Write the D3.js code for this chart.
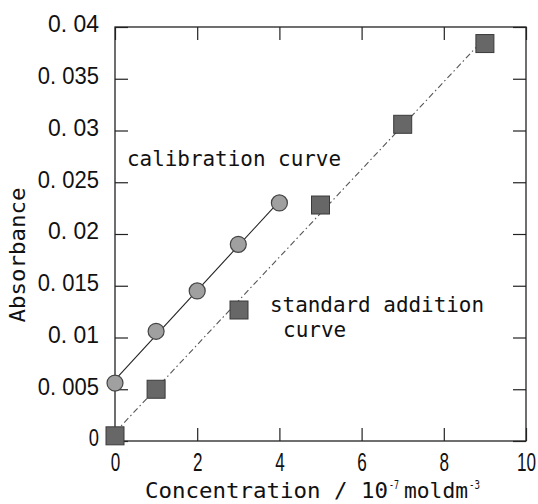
<!DOCTYPE html>
<html>
<head>
<meta charset="utf-8">
<script src="https://cdn.jsdelivr.net/npm/d3@7"></script>
<style>
  body { margin: 0; background: #fff; }
  svg text { fill: #111; }
  .mono { font-family: "DejaVu Sans Mono", "Liberation Mono", monospace; }
  .tick text { font-family: "Liberation Sans", Arial, sans-serif; }
</style>
</head>
<body>
<div id="graph"></div>
<script>
// calibration curve (circles)
var calX = [0, 1, 2, 3, 4];
var calY = [0.0056, 0.0106, 0.0145, 0.0190, 0.0230];
// standard addition curve (squares)
var addX = [0, 1, 5, 7, 9];
var addY = [0.0005, 0.0050, 0.0228, 0.0306, 0.0384];

var xTicks = [0, 2, 4, 6, 8, 10];
var yTicks = [0, 0.005, 0.01, 0.015, 0.02, 0.025, 0.03, 0.035, 0.04];
var yTickLabels = ["0", "0. 005", "0. 01", "0. 015", "0. 02", "0. 025", "0. 03", "0. 035", "0. 04"];

var width = 538, height = 504;
var margin = { left: 115, top: 27, right: 12, bottom: 63 };
var w = width - margin.left - margin.right,
  h = height - margin.top - margin.bottom;

var svg = d3.select("#graph").append("svg")
  .attr("width", width)
  .attr("height", height);

var x = d3.scaleLinear().domain([0, 10]).range([margin.left, margin.left + w]);
var y = d3.scaleLinear().domain([0, 0.04]).range([margin.top + h, margin.top]);

// least squares line
function fit(xs, ys) {
  var mx = d3.mean(xs), my = d3.mean(ys);
  var sxy = 0, sxx = 0;
  for (var i = 0; i < xs.length; i++) {
    sxy += (xs[i] - mx) * (ys[i] - my);
    sxx += (xs[i] - mx) * (xs[i] - mx);
  }
  var b = sxy / sxx;
  return function(v) { return my + b * (v - mx); };
}

/* ------- frame + ticks ------- */
svg.append("rect")
  .attr("x", x(0)).attr("y", y(0.04))
  .attr("width", x(10) - x(0)).attr("height", y(0) - y(0.04))
  .attr("fill", "none").attr("stroke", "#222").attr("stroke-width", 1.3);

var tl = 13;
var bottomAxis = d3.axisBottom(x).tickValues(xTicks).tickSize(-tl).tickPadding(12).tickFormat(d3.format("d"));
var gx = svg.append("g").attr("transform", "translate(0," + y(0) + ")").call(bottomAxis);
var topAxis = d3.axisTop(x).tickValues(xTicks).tickSize(-tl).tickFormat("");
var gxt = svg.append("g").attr("transform", "translate(0," + y(0.04) + ")").call(topAxis);
var leftAxis = d3.axisLeft(y).tickValues(yTicks).tickSize(-tl).tickPadding(16)
  .tickFormat(function(d, i) { return yTickLabels[i]; });
var gy = svg.append("g").attr("transform", "translate(" + x(0) + ",0)").call(leftAxis);
var rightAxis = d3.axisRight(y).tickValues(yTicks).tickSize(-tl).tickFormat("");
var gyr = svg.append("g").attr("transform", "translate(" + x(10) + ",0)").call(rightAxis);

[gx, gxt, gy, gyr].forEach(function(g) {
  g.select(".domain").remove();
  g.selectAll(".tick line").attr("stroke", "#222").attr("stroke-width", 1.2);
});

gx.selectAll(".tick text")
  .style("font-size", "25px")
  .attr("dy", "0.71em")
  .each(function(d) {
    var s = String(d);
    d3.select(this).attr("textLength", s.length * 9.5).attr("lengthAdjust", "spacingAndGlyphs");
  });

gy.selectAll(".tick text")
  .style("font-size", "24px")
  .attr("dy", "0.2em")
  .each(function(d, i) {
    var s = yTickLabels[i];
    d3.select(this).attr("textLength", s.length * 10.2).attr("lengthAdjust", "spacingAndGlyphs");
  });

/* ------- fitted lines ------- */
var fCal = fit(calX, calY);
var fAdd = fit(addX, addY);

svg.append("line")
  .attr("x1", x(0)).attr("y1", y(fCal(0)))
  .attr("x2", x(4)).attr("y2", y(fCal(4)))
  .attr("stroke", "#222").attr("stroke-width", 1.1);

svg.append("line")
  .attr("x1", x(0)).attr("y1", y(fAdd(0)))
  .attr("x2", x(9)).attr("y2", y(fAdd(9)))
  .attr("stroke", "#555").attr("stroke-width", 1.1)
  .attr("stroke-dasharray", "6,3,1.5,3");

/* ------- markers ------- */
var calPts = calX.map(function(v, i) { return { x: v, y: calY[i] }; });
var addPts = addX.map(function(v, i) { return { x: v, y: addY[i] }; });

svg.append("g").selectAll("circle")
  .data(calPts)
  .enter().append("circle")
  .attr("cx", function(d) { return x(d.x); })
  .attr("cy", function(d) { return y(d.y); })
  .attr("r", 8)
  .attr("fill", "#a0a0a0")
  .attr("stroke", "#444")
  .attr("stroke-width", 1.2);

var sq = 18;
svg.append("g").selectAll("rect")
  .data(addPts)
  .enter().append("rect")
  .attr("x", function(d) { return x(d.x) - sq / 2; })
  .attr("y", function(d) { return y(d.y) - sq / 2; })
  .attr("width", sq).attr("height", sq)
  .attr("fill", "#676767")
  .attr("stroke", "#3a3a3a")
  .attr("stroke-width", 1);

/* ------- annotations ------- */
svg.append("text").attr("class", "mono")
  .attr("x", 127).attr("y", 166)
  .attr("font-size", 21)
  .attr("textLength", 214).attr("lengthAdjust", "spacingAndGlyphs")
  .text("calibration curve");

svg.append("rect")
  .attr("x", 239 - sq / 2).attr("y", 310 - sq / 2)
  .attr("width", sq).attr("height", sq)
  .attr("fill", "#676767").attr("stroke", "#3a3a3a");

svg.append("text").attr("class", "mono")
  .attr("x", 270).attr("y", 312)
  .attr("font-size", 21)
  .attr("textLength", 214).attr("lengthAdjust", "spacingAndGlyphs")
  .text("standard addition");
svg.append("text").attr("class", "mono")
  .attr("x", 283).attr("y", 337)
  .attr("font-size", 21)
  .text("curve");

/* ------- axis titles ------- */
var xt = svg.append("text").attr("class", "mono")
  .attr("x", 145).attr("y", 498)
  .attr("font-size", 22);
xt.append("tspan").attr("textLength", 243).attr("lengthAdjust", "spacingAndGlyphs").text("Concentration / 10");
xt.append("tspan").attr("font-size", 13).attr("dy", -9).attr("dx", 1).attr("textLength", 10).attr("lengthAdjust", "spacingAndGlyphs").text("-7");
xt.append("tspan").attr("dy", 9).attr("dx", 5).attr("textLength", 64).attr("lengthAdjust", "spacingAndGlyphs").text("moldm");
xt.append("tspan").attr("font-size", 13).attr("dy", -9).attr("dx", 1).attr("textLength", 11).attr("lengthAdjust", "spacingAndGlyphs").text("-3");

svg.append("text").attr("class", "mono")
  .attr("transform", "translate(25,255) rotate(-90)")
  .attr("text-anchor", "middle")
  .attr("font-size", 21)
  .attr("textLength", 135).attr("lengthAdjust", "spacingAndGlyphs")
  .text("Absorbance");
</script>
</body>
</html>
